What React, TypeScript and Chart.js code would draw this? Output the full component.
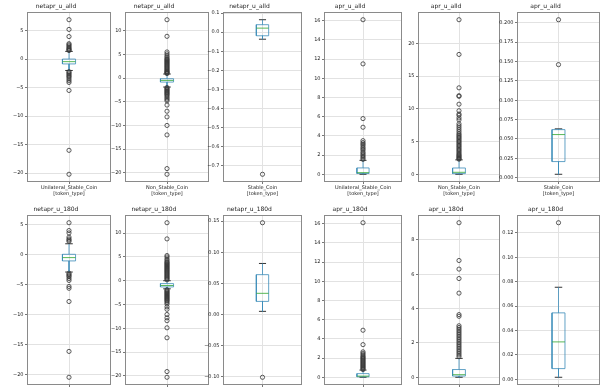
import React, { useEffect, useRef } from "react";
import { Chart, registerables } from "chart.js";
Chart.register(...registerables);

// ---------- DATA ----------
// stats arrays: [lower whisker, q1, median, q3, upper whisker]
const categoriesTop = ["Unilateral_Stable_Coin", "Non_Stable_Coin", "Stable_Coin"];
const titlesTop = ["netapr_u_alld", "netapr_u_alld", "netapr_u_alld", "apr_u_alld", "apr_u_alld", "apr_u_alld"];
const titlesBottom = ["netapr_u_180d", "netapr_u_180d", "netapr_u_180d", "apr_u_180d", "apr_u_180d", "apr_u_180d"];
const xAxisLabel = "[token_type]";

const netaprAlldUnilateralStats = [-2.0, -0.85, -0.45, 0.0, 1.35];
const netaprAlldUnilateralOutliers = [6.9, 5.2, 3.95, 2.7, 2.5, 2.3, 2.1, 1.9, 1.75, 1.6, 1.5, -2.2, -2.4, -2.6, -2.8, -3.0, -3.2, -3.5, -3.8, -4.1, -5.5, -16.0, -20.2];
const netaprAlldUnilateralTicks = [-20, -15, -10, -5, 0, 5];

const netaprAlldNonStableStats = [-1.9, -0.85, -0.5, -0.15, 0.85];
const netaprAlldNonStableOutliers = [12.3, 8.8, 5.5, 5.1, 4.7, 4.4, 4.1, 3.9, 3.7, 3.5, 3.3, 3.1, 2.9, 2.7, 2.5, 2.3, 2.1, 1.9, 1.7, 1.5, 1.35, 1.2, 1.05, 0.95, -2.0, -2.2, -2.4, -2.6, -2.8, -3.0, -3.2, -3.4, -3.6, -3.9, -4.2, -4.5, -4.8, -5.7, -7.0, -8.2, -10.0, -12.0, -19.1, -20.3];
const netaprAlldNonStableTicks = [-20, -15, -10, -5, 0, 5, 10];

const netaprAlldStableStats = [-0.037, -0.019, 0.021, 0.039, 0.065];
const netaprAlldStableOutliers = [-0.744];
const netaprAlldStableTicks = [-0.7, -0.6, -0.5, -0.4, -0.3, -0.2, -0.1, 0.0, 0.1];

const aprAlldUnilateralStats = [0.0, 0.08, 0.17, 0.66, 1.45];
const aprAlldUnilateralOutliers = [16.1, 11.5, 5.8, 4.9, 3.5, 3.3, 3.15, 3.0, 2.8, 2.65, 2.5, 2.3, 2.15, 2.0, 1.85, 1.7, 1.55];
const aprAlldUnilateralTicks = [0, 2, 4, 6, 8, 10, 12, 14, 16];

const aprAlldNonStableStats = [0.0, 0.1, 0.3, 0.96, 2.2];
const aprAlldNonStableOutliers = [23.6, 18.3, 13.2, 12.0, 11.9, 10.7, 9.7, 9.2, 9.0, 8.6, 8.3, 7.7, 7.4, 7.1, 6.8, 6.5, 6.2, 6.0, 5.8, 5.6, 5.4, 5.2, 5.0, 4.8, 4.6, 4.4, 4.2, 4.0, 3.8, 3.6, 3.4, 3.2, 3.0, 2.85, 2.7, 2.55, 2.4, 2.3];
const aprAlldNonStableTicks = [0, 5, 10, 15, 20];

const aprAlldStableStats = [0.0043, 0.0207, 0.0556, 0.062, 0.063];
const aprAlldStableOutliers = [0.146, 0.204];
const aprAlldStableTicks = [0.0, 0.025, 0.05, 0.075, 0.1, 0.125, 0.15, 0.175, 0.2];

const netapr180dUnilateralStats = [-2.9, -1.05, -0.5, 0.05, 1.8];
const netapr180dUnilateralOutliers = [5.3, 4.0, 3.6, 2.9, 2.6, 2.4, 2.2, -3.1, -3.3, -3.5, -3.7, -4.0, -4.3, -5.3, -5.6, -7.8, -16.1, -20.4];
const netapr180dUnilateralTicks = [-20, -15, -10, -5, 0, 5];

const netapr180dNonStableStats = [-1.7, -1.3, -1.0, -0.6, 0.0];
const netapr180dNonStableOutliers = [12.2, 8.8, 5.3, 5.0, 4.6, 4.3, 4.0, 3.8, 3.6, 3.4, 3.2, 3.0, 2.8, 2.6, 2.4, 2.2, 2.0, 1.8, 1.6, 1.4, 1.2, 1.0, 0.8, 0.6, 0.4, 0.2, -1.9, -2.1, -2.3, -2.5, -2.7, -2.9, -3.1, -3.3, -3.5, -3.7, -3.9, -4.1, -4.3, -4.6, -4.9, -5.5, -6.0, -7.1, -7.8, -8.4, -9.9, -12.0, -19.1, -20.3];
const netapr180dNonStableTicks = [-20, -15, -10, -5, 0, 5, 10];

const netapr180dStableStats = [0.005, 0.021, 0.034, 0.064, 0.082];
const netapr180dStableOutliers = [0.1475, -0.101];
const netapr180dStableTicks = [-0.1, -0.05, 0.0, 0.05, 0.1, 0.15];

const apr180dUnilateralStats = [0.0, 0.05, 0.12, 0.38, 0.75];
const apr180dUnilateralOutliers = [16.1, 4.9, 3.4, 2.65, 2.5, 2.35, 2.2, 2.1, 2.0, 1.9, 1.8, 1.7, 1.6, 1.5, 1.4, 1.3, 1.2, 1.1, 1.0, 0.9, 0.8];
const apr180dUnilateralTicks = [0, 2, 4, 6, 8, 10, 12, 14, 16];

const apr180dNonStableStats = [0.0, 0.07, 0.15, 0.45, 1.1];
const apr180dNonStableOutliers = [9.0, 6.8, 6.3, 5.75, 4.9, 3.65, 3.55, 3.0, 2.9, 2.8, 2.7, 2.6, 2.5, 2.4, 2.3, 2.2, 2.1, 2.0, 1.9, 1.8, 1.7, 1.6, 1.5, 1.4, 1.3, 1.2];
const apr180dNonStableTicks = [0, 2, 4, 6, 8];

const apr180dStableStats = [0.0016, 0.0087, 0.0306, 0.0544, 0.0754];
const apr180dStableOutliers = [0.1283];
const apr180dStableTicks = [0.0, 0.02, 0.04, 0.06, 0.08, 0.1, 0.12];

// ---------- LAYOUT ----------
const COL_LEFT = [27, 125, 223, 324, 418, 517];
const COL_RIGHT = [109, 207, 300, 400, 498, 598];
const ROW_TOP = [12, 215];
const PLOT_H = 170;
const Y_AXIS_W = 26;
const TITLE_H = 10;
const X_AXIS_H = 15;
const BOX_HALF = 0.078;
const CAP_HALF = 0.045;
const FONT = "'DejaVu Sans', sans-serif";
const BOX_COLOR = "rgba(60,140,185,0.8)";
const MEDIAN_COLOR = "rgba(60,170,60,0.85)";

type Panel = {
  title: string;
  category: string;
  stats: number[];
  outliers: number[];
  ticks: number[];
  decimals: number;
};

const panels: Panel[] = [
  { title: titlesTop[0], category: categoriesTop[0], stats: netaprAlldUnilateralStats, outliers: netaprAlldUnilateralOutliers, ticks: netaprAlldUnilateralTicks, decimals: 0 },
  { title: titlesTop[1], category: categoriesTop[1], stats: netaprAlldNonStableStats, outliers: netaprAlldNonStableOutliers, ticks: netaprAlldNonStableTicks, decimals: 0 },
  { title: titlesTop[2], category: categoriesTop[2], stats: netaprAlldStableStats, outliers: netaprAlldStableOutliers, ticks: netaprAlldStableTicks, decimals: 1 },
  { title: titlesTop[3], category: categoriesTop[0], stats: aprAlldUnilateralStats, outliers: aprAlldUnilateralOutliers, ticks: aprAlldUnilateralTicks, decimals: 0 },
  { title: titlesTop[4], category: categoriesTop[1], stats: aprAlldNonStableStats, outliers: aprAlldNonStableOutliers, ticks: aprAlldNonStableTicks, decimals: 0 },
  { title: titlesTop[5], category: categoriesTop[2], stats: aprAlldStableStats, outliers: aprAlldStableOutliers, ticks: aprAlldStableTicks, decimals: 3 },
  { title: titlesBottom[0], category: categoriesTop[0], stats: netapr180dUnilateralStats, outliers: netapr180dUnilateralOutliers, ticks: netapr180dUnilateralTicks, decimals: 0 },
  { title: titlesBottom[1], category: categoriesTop[1], stats: netapr180dNonStableStats, outliers: netapr180dNonStableOutliers, ticks: netapr180dNonStableTicks, decimals: 0 },
  { title: titlesBottom[2], category: categoriesTop[2], stats: netapr180dStableStats, outliers: netapr180dStableOutliers, ticks: netapr180dStableTicks, decimals: 2 },
  { title: titlesBottom[3], category: categoriesTop[0], stats: apr180dUnilateralStats, outliers: apr180dUnilateralOutliers, ticks: apr180dUnilateralTicks, decimals: 0 },
  { title: titlesBottom[4], category: categoriesTop[1], stats: apr180dNonStableStats, outliers: apr180dNonStableOutliers, ticks: apr180dNonStableTicks, decimals: 0 },
  { title: titlesBottom[5], category: categoriesTop[2], stats: apr180dStableStats, outliers: apr180dStableOutliers, ticks: apr180dStableTicks, decimals: 2 },
];

const fmt = (v: number, d: number) => {
  const s = (Math.abs(v) < 1e-12 ? 0 : v).toFixed(d);
  return s.replace("-", "\u2212");
};

const framePlugin = {
  id: "frame",
  afterDraw(chart: any) {
    const { ctx, chartArea: a } = chart;
    ctx.save();
    ctx.strokeStyle = "#8a8a8a";
    ctx.lineWidth = 1;
    ctx.strokeRect(Math.round(a.left) + 0.5, Math.round(a.top) + 0.5, Math.round(a.right - a.left) - 1, Math.round(a.bottom - a.top) - 1);
    ctx.restore();
  },
};

function BoxPanel({ panel, left, top, width }: { panel: Panel; left: number; top: number; width: number }) {
  const ref = useRef<HTMLCanvasElement>(null);
  const cw = width + Y_AXIS_W + 2;
  const ch = PLOT_H + TITLE_H + X_AXIS_H;
  useEffect(() => {
    if (!ref.current) return;
    const [low, q1, med, q3, high] = panel.stats;
    const all = [low, high, ...panel.outliers];
    const dmin = Math.min(...all);
    const dmax = Math.max(...all);
    const m = (dmax - dmin) * 0.05;
    const c = 0.5;
    const line = (pts: { x: number; y: number }[], color: string) => ({
      data: pts,
      showLine: true,
      borderColor: color,
      borderWidth: 1,
      pointRadius: 0,
      fill: false,
    });
    const chart = new Chart(ref.current, {
      type: "scatter",
      data: {
        datasets: [
          {
            data: panel.outliers.map((v) => ({ x: c, y: v })),
            showLine: false,
            pointRadius: 2.1,
            pointBorderWidth: 0.8,
            pointBorderColor: "#333",
            pointBackgroundColor: "rgba(0,0,0,0)",
          } as any,
          line([{ x: c - BOX_HALF, y: med }, { x: c + BOX_HALF, y: med }], MEDIAN_COLOR),
          line([{ x: c - BOX_HALF, y: q1 }, { x: c + BOX_HALF, y: q1 }, { x: c + BOX_HALF, y: q3 }, { x: c - BOX_HALF, y: q3 }, { x: c - BOX_HALF, y: q1 }], BOX_COLOR),
          line([{ x: c, y: q1 }, { x: c, y: low }], BOX_COLOR),
          line([{ x: c, y: q3 }, { x: c, y: high }], BOX_COLOR),
          line([{ x: c - CAP_HALF, y: low }, { x: c + CAP_HALF, y: low }], "#333"),
          line([{ x: c - CAP_HALF, y: high }, { x: c + CAP_HALF, y: high }], "#333"),
        ],
      },
      options: {
        animation: false,
        responsive: false,
        devicePixelRatio: 1,
        layout: { padding: 0, autoPadding: false } as any,
        plugins: {
          legend: { display: false },
          tooltip: { enabled: false },
          title: {
            display: true,
            text: panel.title,
            color: "#222",
            font: { family: FONT, size: 6, weight: "normal" },
            padding: { top: 0.4, bottom: 2.4 },
          },
        },
        scales: {
          x: {
            type: "linear",
            min: 0,
            max: 1,
            afterBuildTicks: (s: any) => {
              s.ticks = [{ value: c }];
            },
            afterFit: (s: any) => {
              s.height = X_AXIS_H;
            },
            ticks: {
              callback: () => panel.category,
              color: "#222",
              font: { family: FONT, size: 5 },
              maxRotation: 0,
              autoSkip: false,
              padding: 0.5,
            },
            grid: { color: "#e2e2e2", lineWidth: 1, tickColor: "#777", tickLength: 2 },
            border: { display: false },
            title: {
              display: true,
              text: xAxisLabel,
              color: "#222",
              font: { family: FONT, size: 5 },
              padding: 0,
            },
          },
          y: {
            type: "linear",
            min: dmin - m,
            max: dmax + m,
            afterBuildTicks: (s: any) => {
              s.ticks = panel.ticks.map((v) => ({ value: v }));
            },
            afterFit: (s: any) => {
              s.width = Y_AXIS_W;
            },
            ticks: {
              callback: (v: any) => fmt(Number(v), panel.decimals),
              color: "#222",
              font: { family: FONT, size: 5 },
              padding: 1.5,
            },
            grid: { color: "#e2e2e2", lineWidth: 1, tickColor: "#777", tickLength: 2 },
            border: { display: false },
          },
        },
      } as any,
      plugins: [framePlugin],
    });
    return () => chart.destroy();
  }, [panel]);
  return (
    <canvas
      ref={ref}
      width={cw}
      height={ch}
      style={{ position: "absolute", left: left - Y_AXIS_W, top: top - TITLE_H, width: cw, height: ch }}
    />
  );
}

export default function App() {
  return (
    <div style={{ position: "fixed", left: 0, top: 0, width: 611, height: 387, overflow: "hidden", background: "#fff" }}>
      {panels.map((p, i) => {
        const col = i % 6;
        const row = Math.floor(i / 6);
        return (
          <BoxPanel
            key={i}
            panel={p}
            left={COL_LEFT[col]}
            top={ROW_TOP[row]}
            width={COL_RIGHT[col] - COL_LEFT[col]}
          />
        );
      })}
    </div>
  );
}
